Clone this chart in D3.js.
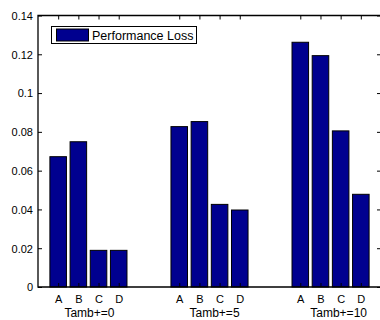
<!DOCTYPE html>
<html>
<head>
<meta charset="utf-8">
<script src="https://cdn.jsdelivr.net/npm/d3@7"></script>
<style>
  body { margin: 0; background: #fff; }
  text { font-family: "Liberation Sans", Arial, sans-serif; fill: #000; }
</style>
</head>
<body>
<svg id="chart" width="380" height="320"></svg>
<script>
// values
const groups = ['Tamb+=0', 'Tamb+=5', 'Tamb+=10'];
const cats = ['A', 'B', 'C', 'D'];
const loss0 = [0.0672, 0.0749, 0.0189, 0.0189];
const loss5 = [0.0827, 0.0853, 0.0426, 0.0397];
const loss10 = [0.1262, 0.1193, 0.0805, 0.0478];
const yTicks = [0, 0.02, 0.04, 0.06, 0.08, 0.1, 0.12, 0.14];
const legendLabel = 'Performance Loss';

const series = [loss0, loss5, loss10];

// bar positions like matlab bar(x,y): 1..4, 7..10, 13..16
let bars = [];
series.forEach((vals, g) => {
  vals.forEach((v, i) => {
    bars.push({ g: g, cat: cats[i], pos: g * 6 + i + 1, v: v });
  });
});

const svg = d3.select('#chart');
const mLeft = 38, mRight = 381, mTop = 15.5, mBottom = 287;

const x = d3.scaleLinear().domain([0, 17]).range([mLeft, mRight]);
const y = d3.scaleLinear().domain([0, 0.14]).range([mBottom, mTop]);
const barW = x(0.82) - x(0);

// bars
svg.append('g').selectAll('rect')
  .data(bars)
  .enter().append('rect')
  .attr('x', d => x(d.pos) - barW / 2)
  .attr('y', d => y(d.v))
  .attr('width', barW)
  .attr('height', d => y(0) - y(d.v))
  .attr('fill', '#00008f')
  .attr('stroke', '#000')
  .attr('stroke-width', 1);

const tickPos = bars.map(d => d.pos);

// left axis
const yAxis = d3.axisLeft(y).tickValues(yTicks).tickSize(-4).tickPadding(5)
  .tickFormat(d => d3.format('')(+d.toFixed(2)));
const gy = svg.append('g').attr('transform', `translate(${mLeft},0)`).call(yAxis);
gy.select('.domain').remove();
gy.selectAll('text').attr('font-size', 11).attr('dy', '0.35em');

// right axis ticks
svg.append('g').attr('transform', `translate(${mRight},0)`)
  .call(d3.axisRight(y).tickValues(yTicks).tickSize(-4).tickFormat(''))
  .select('.domain').remove();

// top ticks
svg.append('g').attr('transform', `translate(0,${mTop})`)
  .call(d3.axisTop(x).tickValues(tickPos).tickSize(-4).tickFormat(''))
  .select('.domain').remove();

// bottom axis with category letters
const gx = svg.append('g').attr('transform', `translate(0,${mBottom})`)
  .call(d3.axisBottom(x).tickValues(tickPos).tickSize(-4).tickPadding(8)
    .tickFormat((d, i) => bars[i].cat));
gx.select('.domain').remove();
gx.selectAll('text').attr('font-size', 11);

svg.selectAll('.tick line').attr('stroke', '#000');

// box
svg.append('path')
  .attr('d', `M${mLeft},${mTop}H${mRight}V${mBottom}H${mLeft}Z`)
  .attr('fill', 'none')
  .attr('stroke', '#000')
  .attr('stroke-width', 1.3);

// group labels under each cluster
const labelShift = [0.05, 0.25, 0.4];
svg.append('g').selectAll('text')
  .data(groups)
  .enter().append('text')
  .attr('x', (d, i) => x(i * 6 + 2.5 + labelShift[i]))
  .attr('y', 317)
  .attr('text-anchor', 'middle')
  .attr('font-size', 12)
  .text(d => d);

// legend
const lg = svg.append('g');
lg.append('rect')
  .attr('x', 51.5).attr('y', 26.5).attr('width', 145).attr('height', 17)
  .attr('fill', '#fff').attr('stroke', '#000').attr('stroke-width', 1);
lg.append('rect')
  .attr('x', 56.5).attr('y', 29).attr('width', 32).attr('height', 12)
  .attr('fill', '#00008f').attr('stroke', '#000');
lg.append('text')
  .attr('x', 92).attr('y', 39.5)
  .attr('font-size', 12.5)
  .text(legendLabel);
</script>
</body>
</html>
